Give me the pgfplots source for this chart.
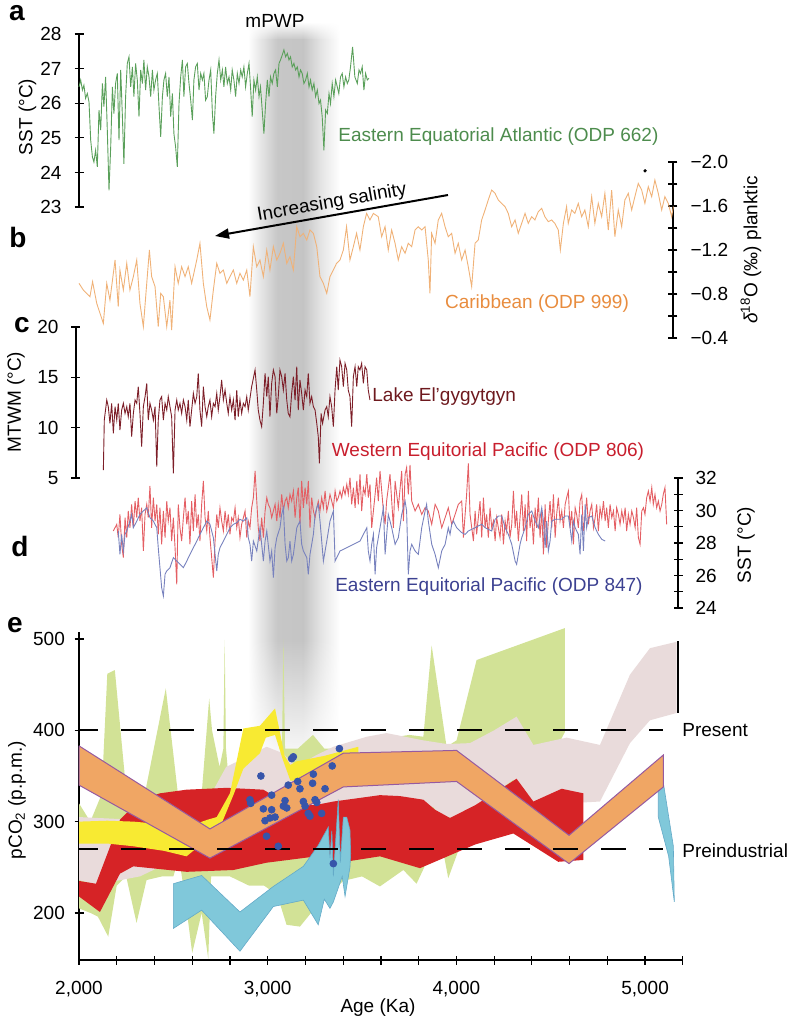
\documentclass[border=0pt]{standalone}
\usepackage{fontspec}
\setmainfont{Liberation Sans}
\usepackage{pgfplots}
\pgfplotsset{compat=1.18}
\usetikzlibrary{arrows.meta,fadings}

\definecolor{lgreen}{RGB}{90,160,90}
\definecolor{tgreen}{RGB}{77,140,77}
\definecolor{lorange}{RGB}{240,178,120}
\definecolor{torange}{RGB}{232,140,62}
\definecolor{ldark}{RGB}{125,30,40}
\definecolor{tdark}{RGB}{110,25,30}
\definecolor{lred}{RGB}{228,95,100}
\definecolor{tred}{RGB}{200,30,45}
\definecolor{lblue}{RGB}{120,130,190}
\definecolor{tblue}{RGB}{60,65,145}
\definecolor{egreen}{RGB}{210,226,150}
\definecolor{ered}{RGB}{214,35,38}
\definecolor{epink}{RGB}{233,219,219}
\definecolor{eyellow}{RGB}{248,234,50}
\definecolor{eorange}{RGB}{240,166,100}
\definecolor{epurple}{RGB}{150,90,160}
\definecolor{ecyan}{RGB}{128,200,218}
\definecolor{ecyanedge}{RGB}{100,170,200}
\definecolor{edot}{RGB}{55,85,170}

\tikzfading[name=fadedown, top color=transparent!0, bottom color=transparent!100]
\tikzfading[name=fadeup, top color=transparent!100, bottom color=transparent!0]
\pgfdeclarehorizontalshading{mpwp}{100bp}{color(0bp)=(white); color(25bp)=(white); color(32bp)=(black!10); color(41bp)=(black!22); color(55bp)=(black!23); color(65bp)=(black!10); color(75bp)=(white); color(100bp)=(white)}

\newcommand{\lab}{\fontsize{9.5}{11}\selectfont}

\pgfplotsset{
  panel/.style={scale only axis, clip=false,
    tick align=inside, major tick length=4.5pt, minor tick length=4.5pt,
    tick style={black, line width=0.6pt},
    tick label style={font=\lab},
    /pgf/number format/assume math mode=true},
  ypanel/.style={panel, axis x line=none, xtick=\empty},
  noarrow/.style={axis line style={black, line width=0.8pt, -},
    x axis line style={-}, y axis line style={-},
    every outer y axis line/.append style={-},
    every outer x axis line/.append style={-},
    every inner y axis line/.append style={-},
    every inner x axis line/.append style={-}},
}

\begin{document}
\begin{tikzpicture}
\path[use as bounding box] (0,0) rectangle (394pt,-512.5pt);

% mPWP shading band
\shade[shading=mpwp, path fading=fadeup] (124pt,-11pt) rectangle (170pt,-20pt);
\shade[shading=mpwp] (124pt,-19.9pt) rectangle (170pt,-320.1pt);
\shade[shading=mpwp, path fading=fadedown] (124pt,-320pt) rectangle (170pt,-385pt);

% ---------- panel a ----------
\begin{axis}[ypanel, at={(39.5pt,-103.5pt)}, anchor=south west,
  width=301.9pt, height=86.5pt, xmin=2000, xmax=5200, ymin=23, ymax=28,
  axis y line=left, ytick={23,24,25,26,27,28},
  yticklabel style={xshift=-3pt}, noarrow]
\addplot[lgreen, line width=0.45pt] coordinates {
(2000,26.47) (2009,26.67) (2018,26.38) (2026,26.52) (2035,26.14) (2044,26.28) (2053,26.04) (2062,24.93)
(2071,24.45) (2079,24.30) (2088,24.64) (2097,24.16) (2106,25.80) (2115,25.22) (2124,26.57) (2132,25.90)
(2141,26.76) (2150,25.22) (2159,23.48) (2168,24.74) (2177,26.47) (2185,25.70) (2194,26.57) (2203,26.86)
(2212,24.93) (2221,26.96) (2230,25.61) (2238,24.25) (2247,26.19) (2256,27.15) (2265,27.34) (2274,26.47)
(2283,27.05) (2291,26.19) (2300,27.15) (2309,26.67) (2318,25.61) (2327,26.96) (2336,26.57) (2344,27.25)
(2353,26.38) (2362,27.05) (2371,26.76) (2380,26.19) (2389,26.96) (2397,26.38) (2406,26.67) (2415,26.86)
(2424,25.90) (2433,25.03) (2442,26.19) (2450,26.67) (2459,26.86) (2468,26.19) (2477,26.76) (2486,25.61)
(2495,26.28) (2503,25.12) (2512,24.74) (2521,24.16) (2530,25.99) (2539,26.76) (2548,27.25) (2556,26.19)
(2565,27.05) (2574,27.15) (2583,26.57) (2592,26.09) (2601,25.51) (2609,26.67) (2618,27.05) (2627,27.15)
(2636,26.38) (2645,26.86) (2654,26.67) (2662,26.86) (2671,26.09) (2680,26.19) (2689,26.67) (2698,26.96)
(2707,25.70) (2715,25.12) (2724,26.19) (2733,26.86) (2742,27.25) (2751,26.67) (2760,26.96) (2768,26.47)
(2777,27.05) (2786,26.57) (2795,26.76) (2804,26.38) (2812,26.96) (2821,26.67) (2830,26.19) (2839,26.86)
(2848,26.57) (2857,26.96) (2865,26.76) (2874,27.05) (2883,26.47) (2892,26.86) (2901,27.15) (2910,26.38)
(2918,25.61) (2927,26.67) (2936,26.38) (2945,26.76) (2954,26.19) (2962,26.47) (2971,25.80) (2980,25.12)
(2989,25.99) (2998,26.67) (3007,26.19) (3015,26.76) (3024,26.57) (3033,26.86) (3042,26.96) (3051,26.47)
(3060,27.15) (3068,27.25) (3077,27.39) (3086,27.54) (3095,27.34) (3104,27.44) (3113,27.25) (3121,27.34)
(3130,27.05) (3139,27.15) (3148,26.96) (3157,27.05) (3166,26.76) (3174,26.96) (3183,26.86) (3192,26.57)
(3201,26.67) (3210,26.86) (3219,26.47) (3227,26.67) (3236,26.38) (3245,26.57) (3254,26.19) (3263,26.38)
(3272,25.99) (3280,26.09) (3289,25.61) (3298,24.64) (3307,25.80) (3316,25.70) (3325,26.28) (3333,25.99)
(3342,26.57) (3351,26.19) (3360,26.67) (3369,26.47) (3377,26.28) (3386,26.76) (3395,26.86) (3404,26.47)
(3413,26.76) (3422,26.57) (3430,26.67) (3439,27.05) (3450,27.63) (3462,26.76) (3475,26.57) (3484,26.96)
(3492,26.86) (3501,27.05) (3510,26.38) (3519,26.86) (3528,26.67) (3537,26.72)
};
\end{axis}

% ---------- panel b ----------
\begin{axis}[ypanel, at={(39.5pt,-169pt)}, anchor=south west,
  width=297pt, height=88pt, xmin=2000, xmax=5148, ymin=-2.0, ymax=-0.4,
  y dir=reverse, axis y line=right,
  ytick={-2.0,-1.6,-1.2,-0.8,-0.4}, yticklabels={−2.0,−1.6,−1.2,−0.8,−0.4},
  minor ytick={-1.8,-1.4,-1.0,-0.6},
  yticklabel style={xshift=3pt}, noarrow]
\addplot[lorange, line width=0.45pt] coordinates {
(2000,-0.897) (2023,-0.836) (2058,-0.776) (2072,-0.912) (2094,-0.715) (2129,-0.533) (2147,-0.897) (2164,-0.745)
(2191,-1.109) (2208,-0.685) (2217,-1.018) (2235,-0.836) (2253,-1.079) (2270,-0.836) (2288,-0.958) (2306,-1.109)
(2323,-0.715) (2341,-0.503) (2359,-0.897) (2373,-1.200) (2385,-0.958) (2403,-0.867) (2420,-0.503) (2433,-0.806)
(2447,-0.776) (2465,-0.503) (2482,-0.745) (2491,-0.473) (2509,-1.048) (2526,-0.897) (2544,-1.048) (2562,-0.958)
(2579,-1.048) (2597,-0.897) (2624,-1.109) (2641,-1.261) (2659,-0.897) (2677,-0.685) (2694,-0.564) (2712,-0.836)
(2730,-1.079) (2747,-0.988) (2765,-1.018) (2783,-0.897) (2800,-0.958) (2818,-1.018) (2836,-0.897) (2853,-0.988)
(2871,-0.927) (2889,-1.018) (2906,-0.776) (2924,-1.230) (2942,-1.048) (2959,-1.109) (2977,-0.958) (2995,-1.200)
(3012,-1.018) (3030,-1.230) (3048,-1.109) (3065,-1.170) (3083,-1.261) (3101,-1.079) (3118,-1.139) (3136,-1.018)
(3154,-1.412) (3171,-1.321) (3189,-1.352) (3207,-1.291) (3224,-1.382) (3242,-1.352) (3260,-1.230) (3277,-0.958)
(3295,-0.897) (3313,-0.806) (3330,-0.958) (3348,-1.018) (3365,-1.079) (3383,-1.109) (3401,-1.200) (3418,-1.412)
(3436,-1.109) (3454,-1.230) (3471,-1.352) (3489,-1.200) (3507,-1.412) (3524,-1.533) (3542,-1.473) (3560,-1.533)
(3586,-1.503) (3604,-1.321) (3622,-1.412) (3639,-1.200) (3657,-1.382) (3675,-1.261) (3692,-1.109) (3710,-1.230)
(3728,-1.170) (3745,-1.261) (3763,-1.230) (3781,-1.382) (3798,-1.412) (3816,-1.382) (3834,-1.412) (3851,-1.109)
(3860,-0.806) (3869,-1.352) (3887,-1.261) (3904,-1.473) (3922,-1.533) (3940,-1.412) (3957,-1.321) (3975,-1.352)
(3993,-1.170) (4010,-1.261) (4028,-1.109) (4046,-1.200) (4063,-1.048) (4081,-0.867) (4099,-1.261) (4116,-1.291)
(4134,-1.473) (4152,-1.564) (4169,-1.655) (4187,-1.745) (4205,-1.715) (4222,-1.655) (4240,-1.624) (4258,-1.594)
(4275,-1.533) (4293,-1.412) (4311,-1.473) (4328,-1.352) (4346,-1.442) (4364,-1.533) (4381,-1.442) (4399,-1.503)
(4416,-1.473) (4434,-1.548) (4452,-1.579) (4469,-1.503) (4487,-1.458) (4505,-1.473) (4522,-1.442) (4540,-1.382)
(4551,-1.200) (4567,-1.442) (4584,-1.594) (4593,-1.442) (4611,-1.564) (4628,-1.533) (4646,-1.624) (4664,-1.503)
(4681,-1.564) (4699,-1.412) (4717,-1.685) (4734,-1.442) (4752,-1.624) (4770,-1.503) (4787,-1.715) (4805,-1.382)
(4823,-1.745) (4840,-1.321) (4858,-1.564) (4876,-1.412) (4893,-1.655) (4911,-1.715) (4929,-1.564) (4946,-1.685)
(4964,-1.806) (4982,-1.745) (4999,-1.624) (5017,-1.776) (5035,-1.685) (5052,-1.836) (5070,-1.715) (5088,-1.564)
(5105,-1.685) (5123,-1.624) (5141,-1.503) (5150,-1.594)
};
\addplot[only marks, mark=*, mark size=0.6pt, black] coordinates {(5000,-1.92)};
\end{axis}

% ---------- panel c ----------
\begin{axis}[ypanel, at={(38pt,-239pt)}, anchor=south west,
  width=303.4pt, height=75.5pt, xmin=1984, xmax=5200, ymin=5, ymax=20,
  axis y line=left, ytick={5,10,15,20},
  yticklabel style={xshift=-3pt}, noarrow]
\addplot[ldark, line width=0.45pt] coordinates {
(2129,5.79) (2134,10.76) (2147,12.75) (2155,12.09) (2164,10.43) (2173,12.42) (2182,9.44) (2191,12.09)
(2200,10.76) (2208,12.42) (2217,9.77) (2226,11.75) (2235,12.42) (2244,11.42) (2253,12.09) (2261,11.09)
(2270,12.42) (2279,9.11) (2288,11.42) (2297,12.75) (2306,12.42) (2314,14.07) (2323,11.42) (2332,8.11)
(2341,12.09) (2350,13.08) (2359,14.40) (2367,10.76) (2376,12.42) (2385,11.75) (2394,10.76) (2403,12.09)
(2412,6.13) (2420,10.76) (2429,12.75) (2438,13.08) (2447,10.76) (2456,12.42) (2465,11.75) (2473,13.08)
(2482,12.09) (2491,11.09) (2500,5.46) (2509,11.75) (2518,12.75) (2526,11.75) (2535,12.42) (2544,11.42)
(2553,12.75) (2562,12.09) (2571,10.76) (2579,12.75) (2588,10.10) (2597,11.75) (2606,13.41) (2615,12.42)
(2624,13.08) (2632,15.40) (2641,11.75) (2650,10.10) (2659,14.07) (2668,12.09) (2677,11.09) (2685,12.09)
(2694,12.75) (2703,11.09) (2712,12.42) (2721,12.09) (2730,13.41) (2738,11.75) (2747,13.08) (2756,14.74)
(2765,12.75) (2774,13.74) (2783,12.42) (2791,11.42) (2800,13.08) (2809,11.75) (2818,12.75) (2827,10.76)
(2836,13.74) (2844,11.09) (2853,12.75) (2862,11.42) (2871,12.42) (2880,12.09) (2889,13.08) (2897,11.75)
(2915,14.07) (2933,15.73) (2942,13.74) (2950,11.75) (2959,10.76) (2968,10.10) (2977,12.42) (2986,15.40)
(2995,13.08) (3003,15.07) (3012,11.09) (3021,14.40) (3030,15.73) (3039,15.07) (3048,11.42) (3056,13.08)
(3065,15.73) (3074,15.07) (3083,13.74) (3092,15.40) (3101,12.75) (3109,11.42) (3118,11.09) (3127,13.41)
(3136,15.07) (3145,12.75) (3154,16.06) (3162,11.75) (3171,14.74) (3180,13.41) (3189,11.75) (3198,13.74)
(3207,13.08) (3215,15.40) (3224,12.42) (3233,13.08) (3242,12.09) (3251,11.75) (3260,10.43) (3268,9.11)
(3274,6.46) (3283,11.42) (3291,10.43) (3304,11.75) (3313,12.09) (3321,11.09) (3330,13.08) (3339,12.09)
(3348,10.10) (3357,13.74) (3366,16.06) (3374,13.74) (3383,16.72) (3392,16.06) (3401,14.07) (3410,16.39)
(3419,15.73) (3427,13.74) (3436,13.08) (3445,10.10) (3454,15.07) (3463,16.06) (3472,14.07) (3480,16.06)
(3489,15.73) (3498,16.39) (3507,14.40) (3516,16.06) (3525,15.73) (3533,13.74) (3542,12.75)
};
\end{axis}

% ---------- panel d ----------
\begin{axis}[ypanel, at={(39.5pt,-304pt)}, anchor=south west,
  width=299.5pt, height=65pt, xmin=2000, xmax=5174, ymin=24, ymax=32,
  axis y line=right, ytick={24,26,28,30,32}, minor ytick={25,27,29,31},
  yticklabel style={xshift=3pt}, noarrow]
\addplot[lred, line width=0.45pt] coordinates {
(2182,28.74) (2200,29.15) (2208,28.33) (2217,29.76) (2226,27.92) (2235,27.10) (2244,29.56) (2253,28.33)
(2261,29.97) (2270,28.94) (2279,30.38) (2288,28.94) (2297,30.58) (2306,29.56) (2314,30.79) (2323,29.35)
(2332,30.17) (2341,27.51) (2350,29.76) (2359,30.38) (2367,29.56) (2376,31.51) (2385,28.94) (2394,30.79)
(2403,29.35) (2412,30.38) (2420,28.53) (2429,30.17) (2438,27.92) (2447,29.97) (2456,28.33) (2465,30.58)
(2473,29.35) (2482,30.17) (2491,28.12) (2500,29.56) (2509,27.71) (2518,25.46) (2526,30.38) (2535,28.94)
(2544,28.12) (2553,29.56) (2562,30.79) (2571,29.15) (2579,29.97) (2588,27.92) (2597,30.58) (2606,28.74)
(2615,30.99) (2624,28.94) (2632,29.76) (2641,28.12) (2650,30.38) (2659,31.82) (2668,29.56) (2677,28.74)
(2685,29.97) (2694,28.33) (2703,27.10) (2712,25.87) (2721,28.12) (2730,29.76) (2738,28.94) (2747,30.17)
(2756,29.35) (2765,28.74) (2774,29.97) (2783,28.94) (2791,29.76) (2800,28.53) (2809,29.56) (2818,29.35)
(2827,30.17) (2836,28.94) (2844,29.56) (2853,28.33) (2862,29.15) (2871,29.56) (2880,29.97) (2889,28.33)
(2897,29.35) (2906,28.94) (2915,30.17) (2924,30.79) (2933,32.43) (2942,30.58) (2950,28.94) (2959,28.12)
(2968,29.56) (2977,28.33) (2986,29.97) (2995,30.79) (3003,30.38) (3012,30.17) (3021,29.56) (3030,29.97)
(3039,30.38) (3048,29.35) (3056,30.38) (3065,29.56) (3074,30.99) (3083,29.97) (3092,30.58) (3101,30.79)
(3109,30.17) (3118,30.99) (3127,30.58) (3136,31.20) (3145,29.56) (3154,30.79) (3162,31.41) (3171,29.15)
(3180,31.82) (3189,30.17) (3198,31.41) (3207,30.38) (3215,31.82) (3224,28.94) (3233,30.79) (3242,29.97)
(3251,29.56) (3260,30.17) (3268,30.58) (3277,29.97) (3286,30.79) (3295,30.17) (3304,31.20) (3313,29.97)
(3321,30.38) (3330,30.99) (3339,30.58) (3348,30.17) (3357,31.20) (3366,30.58) (3374,30.79) (3383,31.20)
(3392,30.79) (3401,31.41) (3410,30.99) (3419,31.61) (3427,30.99) (3436,32.02) (3445,30.38) (3454,31.41)
(3463,30.17) (3472,31.82) (3480,30.38) (3489,32.23) (3498,29.97) (3507,31.41) (3516,30.99) (3525,32.23)
(3533,30.79) (3542,31.61) (3551,28.94) (3560,29.97) (3569,30.99) (3577,32.02) (3586,30.58) (3595,32.43)
(3604,31.20) (3613,29.97) (3622,29.15) (3630,30.58) (3648,32.23) (3666,28.94) (3675,31.82) (3692,30.17)
(3710,32.43) (3719,29.35) (3728,32.23) (3736,32.64) (3745,30.99) (3754,32.8) (3763,30.58) (3781,29.97)
(3798,30.38) (3816,29.76) (3834,30.17) (3851,29.97) (3869,29.15) (3887,30.38) (3904,29.97) (3922,28.94)
(3940,29.56) (3957,30.17) (3975,29.15) (3993,29.76) (4010,30.38) (4028,30.58) (4037,28.33) (4046,29.76)
(4054,30.99) (4063,32.9) (4072,29.76) (4081,28.94) (4090,28.12) (4099,29.97) (4107,28.53) (4116,29.56)
(4125,30.58) (4134,28.33) (4143,30.79) (4152,28.94) (4160,29.76) (4169,28.33) (4178,30.17) (4187,28.94)
(4196,29.35) (4205,28.12) (4213,29.56) (4222,28.94) (4231,28.33) (4240,29.76) (4249,27.92) (4258,29.35)
(4266,28.74) (4275,29.97) (4284,28.33) (4293,29.15) (4302,31.20) (4311,28.94) (4319,29.97) (4328,28.12)
(4337,29.56) (4346,30.99) (4355,28.74) (4364,30.38) (4372,28.12) (4381,31.20) (4390,28.94) (4399,29.76)
(4408,27.92) (4417,30.17) (4425,28.94) (4434,30.79) (4443,28.33) (4452,29.97) (4461,27.30) (4470,30.38)
(4478,27.71) (4487,29.35) (4496,30.58) (4505,28.94) (4514,30.99) (4523,28.33) (4531,29.76) (4540,30.79)
(4549,29.35) (4558,29.97) (4567,28.94) (4576,30.38) (4584,30.79) (4593,31.20) (4602,28.94) (4611,29.97)
(4620,27.92) (4629,30.17) (4637,29.76) (4646,28.94) (4655,30.58) (4664,30.99) (4673,28.74) (4682,29.56)
(4690,30.79) (4699,29.15) (4708,29.97) (4717,30.38) (4726,28.94) (4735,29.56) (4743,30.38) (4752,28.74)
(4761,30.17) (4770,29.56) (4779,30.58) (4788,29.35) (4796,30.17) (4805,28.94) (4814,30.38) (4823,29.56)
(4832,29.97) (4841,28.74) (4849,30.17) (4858,29.76) (4867,29.15) (4876,29.97) (4885,29.35) (4894,30.17)
(4902,28.74) (4911,29.76) (4920,29.15) (4929,29.97) (4938,29.56) (4947,28.94) (4955,30.17) (4964,28.33)
(4973,27.92) (4982,29.97) (4991,30.17) (4999,29.76) (5008,30.79) (5017,31.20) (5026,30.58) (5035,31.41)
(5043,30.38) (5052,30.99) (5061,30.17) (5070,30.58) (5079,29.97) (5088,30.38) (5096,30.99) (5105,31.41)
(5114,29.15)
};
\addplot[lblue, line width=0.45pt] coordinates {
(2208,28.74) (2217,27.30) (2226,28.53) (2235,27.51) (2244,28.53) (2253,28.74) (2270,29.35) (2279,29.76)
(2288,28.94) (2306,29.35) (2323,29.76) (2341,29.97) (2359,30.17) (2376,29.56) (2394,29.35) (2412,28.94)
(2420,27.71) (2429,26.48) (2438,25.25) (2447,24.74) (2456,26.07) (2465,26.28) (2482,26.48) (2500,27.10)
(2518,26.89) (2535,26.69) (2553,26.48) (2571,26.89) (2588,27.30) (2606,27.71) (2624,28.12) (2641,28.53)
(2659,28.94) (2677,29.35) (2694,29.15) (2712,28.33) (2730,26.28) (2738,27.30) (2747,27.71) (2765,28.12)
(2783,28.53) (2800,28.94) (2818,29.15) (2836,29.25) (2853,29.46) (2871,29.35) (2889,29.56) (2897,28.33)
(2906,27.92) (2915,26.89) (2924,28.12) (2942,27.51) (2959,28.94) (2977,26.89) (2986,28.12) (2995,28.74)
(3012,26.89) (3021,27.51) (3030,25.87) (3039,27.71) (3048,28.33) (3065,28.94) (3074,29.76) (3083,30.17)
(3092,27.92) (3101,26.89) (3109,27.10) (3118,28.12) (3127,26.89) (3136,27.30) (3154,28.94) (3171,29.35)
(3180,27.92) (3189,27.51) (3207,27.10) (3215,26.07) (3224,27.30) (3242,28.53) (3251,29.76) (3260,30.17)
(3268,30.38) (3277,29.35) (3286,28.12) (3295,26.89) (3313,28.12) (3330,29.35) (3348,29.97) (3357,26.89)
(3366,27.10) (3383,27.51) (3419,27.71) (3454,27.92) (3489,28.12) (3525,28.94) (3533,27.51) (3542,26.89)
(3551,27.92) (3560,28.53) (3569,26.07) (3577,27.71) (3595,28.94) (3613,30.17) (3622,27.30) (3639,29.76)
(3657,28.94) (3675,27.92) (3692,28.33) (3710,29.76) (3728,30.58) (3736,29.97) (3745,26.07) (3754,27.51)
(3763,27.92) (3781,27.51) (3798,27.30) (3816,28.94) (3834,29.97) (3842,30.38) (3851,29.35) (3869,27.92)
(3887,27.30) (3904,26.48) (3922,27.51) (3940,27.92) (3957,28.94) (3966,28.53) (3975,29.15) (3984,29.35)
(4001,28.94) (4028,28.64) (4046,28.53) (4063,28.74) (4081,28.84) (4099,28.94) (4116,29.05) (4134,29.15)
(4152,28.94) (4169,28.84) (4187,28.74) (4205,29.46) (4222,29.66) (4240,29.66) (4258,28.94) (4275,28.53)
(4293,27.92) (4311,26.89) (4319,26.69) (4328,27.30) (4337,27.92) (4346,28.33) (4364,28.94) (4381,29.76)
(4399,29.97) (4417,29.35) (4434,28.94) (4452,30.17) (4461,29.35) (4470,27.71) (4478,29.35) (4487,27.51)
(4496,28.12) (4505,29.35) (4523,29.46) (4540,29.46) (4558,29.46) (4576,29.66) (4593,29.66) (4602,28.94)
(4611,28.12) (4620,29.35) (4629,28.94) (4646,28.53) (4655,27.30) (4664,29.76) (4673,27.51) (4682,30.38)
(4690,28.94) (4699,29.56) (4717,29.66) (4735,28.94) (4752,28.53) (4770,28.23) (4788,28.12)
};
\end{axis}

% ---------- panel e ----------
\begin{axis}[panel, at={(39.5pt,-480pt)}, anchor=south west,
  width=301.9pt, height=164pt, xmin=2000, xmax=5200, ymin=148.4, ymax=507.7,
  axis x line=bottom, axis y line=left,
  xtick={2000,3000,4000,5000}, xticklabels={{2,000},{3,000},{4,000},{5,000}},
  minor xtick={2200,2400,2600,2800,3200,3400,3600,3800,4200,4400,4600,4800,5200},
  ytick={200,300,400,500},
  yticklabel style={xshift=-1.3pt}, xticklabel style={yshift=-5pt}, noarrow]
% green
\addplot[fill=egreen, draw=none] coordinates {
(2000,320) (2060,300) (2120,330) (2150,462) (2190,466) (2270,290) (2330,300) (2358,340) (2460,446)
(2530,320) (2600,290) (2650,330) (2690,435) (2705,400) (2745,360) (2765,380) (2772,499) (2779,380)
(2800,330) (2870,330) (2980,320) (3075,360) (3083,500) (3092,380) (3160,380) (3240,395) (3300,380)
(3400,380) (3500,380) (3600,390) (3750,395) (3825,393) (3869,493) (3948,382) (4001,389) (4107,477)
(4575,512) (4575,398) (4400,330) (4200,300) (4019,273) (3957,238) (3900,300) (3869,310) (3830,250)
(3789,232) (3719,247) (3595,229) (3500,240) (3400,235) (3300,215) (3230,200) (3171,185) (3100,187)
(3050,220) (2980,230) (2900,230) (2800,240) (2700,240) (2685,150) (2650,200) (2600,156) (2560,220)
(2530,260) (2500,240) (2440,240) (2358,236) (2305,189) (2250,240) (2200,230) (2155,174) (2100,196)
(2060,200) (2000,205) (2000,320)
};
% pink
\addplot[fill=epink, draw=none] coordinates {
(2000,305) (2300,302) (2550,300) (2700,330) (2780,360) (2871,369) (2994,382) (3080,375) (3153,360)
(3250,372) (3348,382) (3525,393) (3630,397) (3825,389) (3950,385) (4072,386) (4200,400) (4319,415)
(4408,384) (4584,392) (4761,384) (4920,461) (5026,490) (5167,497) (5167,419) (5026,411) (4920,386)
(4761,322) (4584,320) (4408,322) (4302,346) (4125,320) (4019,302) (3913,307) (3878,316) (3700,318)
(3400,300) (3171,300) (2994,290) (2818,280) (2641,262) (2465,254) (2323,240) (2094,231) (2000,236)
(2000,305)
};
% red
\addplot[fill=ered, draw=none] coordinates {
(2000,235) (2090,232) (2160,270) (2217,302) (2323,324) (2429,331) (2570,335) (2783,337) (2977,335)
(3100,320) (3250,318) (3348,322) (3525,327) (3595,329) (3700,328) (3825,324) (3887,313) (3966,304)
(4100,318) (4319,347) (4408,322) (4558,336) (4673,331) (4673,258) (4540,256) (4302,287) (4100,275)
(3807,249) (3595,262) (3348,254) (3260,262) (2994,255) (2818,247) (2570,245) (2288,251) (2217,243)
(2111,201) (2000,218) (2000,235)
};
% yellow
\addplot[fill=eyellow, draw=none] coordinates {
(2000,300) (2150,301) (2288,300) (2450,297) (2570,294) (2680,302) (2730,305) (2800,331) (2871,402)
(2959,405) (3039,424) (3090,372) (3120,362) (3153,366) (3300,372) (3480,382) (3480,370) (3300,357)
(3171,345) (3120,345) (3080,368) (3039,395) (2990,392) (2959,375) (2871,358) (2820,330) (2760,300)
(2641,274) (2570,262) (2450,268) (2288,273) (2150,276) (2000,276) (2000,300)
};
% cyan
\addplot[fill=ecyan, draw=ecyanedge, line width=0.3pt] coordinates {
(2500,232) (2650,241) (2853,201) (3030,229) (3189,251) (3268,274) (3321,294) (3330,260) (3340,290)
(3348,240) (3374,324) (3385,255) (3401,305) (3419,305) (3436,291) (3440,265) (3436,250) (3410,218)
(3395,240) (3370,225) (3348,212) (3330,205) (3300,215) (3268,187) (3189,214) (3030,207) (2853,158)
(2650,203) (2500,183) (2500,232)
};
\addplot[fill=ecyan, draw=ecyanedge, line width=0.3pt] coordinates {
(5070,335) (5095,345) (5150,273) (5155,212) (5125,262) (5070,305) (5070,335)
};
% orange band
\addplot[fill=eorange, draw=epurple, line width=0.5pt] coordinates {
(2000,383) (2694,292) (3401,375) (4001,378) (4597,285) (5097,373)
(5097,338) (4597,254) (4001,344) (3401,338) (2694,260) (2000,340) (2000,383)
};
% dashed reference lines
\addplot[black, line width=1pt, dash pattern=on 12.5pt off 11.5pt, dash phase=2.8pt] coordinates {(2000,400) (5097,400)};
\addplot[black, line width=1pt, dash pattern=on 12.5pt off 11.5pt, dash phase=2.8pt] coordinates {(2000,270) (5097,270)};
\addplot[black, line width=0.7pt] coordinates {(5175,419) (5175,498)};
% blue dots
\addplot[only marks, mark=*, mark size=1.7pt, color=edot] coordinates {
(2964,350) (2906,324) (2910,320) (2977,314) (3021,329) (3021,313) (2986,301) (3012,304) (3039,305)
(2994,284) (3056,273) (3092,323) (3101,315) (3083,317) (3109,340) (3127,369) (3136,371) (3159,344)
(3171,336) (3189,322) (3198,317) (3215,309) (3224,306) (3238,342) (3242,352) (3251,324) (3260,321)
(3286,309) (3304,336) (3342,361) (3380,380) (3348,254)
};
\end{axis}

% ---------- texts ----------
\begin{scope}[every node/.style={inner sep=0pt, font=\lab}]
\node[font=\fontsize{14}{14}\selectfont\bfseries, anchor=base] at (8.5pt,-10pt) {a};
\node[font=\fontsize{14}{14}\selectfont\bfseries, anchor=base] at (9pt,-123.5pt) {b};
\node[font=\fontsize{14}{14}\selectfont\bfseries, anchor=base] at (11pt,-166pt) {c};
\node[font=\fontsize{14}{14}\selectfont\bfseries, anchor=base] at (10pt,-278pt) {d};
\node[font=\fontsize{14}{14}\selectfont\bfseries, anchor=base] at (7.5pt,-316pt) {e};
\node[anchor=base] at (137.5pt,-13.5pt) {mPWP};
\node[rotate=90] at (13.75pt,-58.5pt) {SST (°C)};
\node[rotate=90] at (375.5pt,-125pt) {\textit{δ}\textsuperscript{18}O (‰) planktic};
\node[rotate=90] at (8pt,-201pt) {MTWM (°C)};
\node[rotate=90] at (373pt,-272.5pt) {SST (°C)};
\node[rotate=90] at (8.5pt,-400pt) {pCO\textsubscript{2} (p.p.m.)};
\node at (189pt,-504pt) {Age (Ka)};
\node[anchor=west] at (341pt,-365pt) {Present};
\node[anchor=west] at (341pt,-425.5pt) {Preindustrial};
\node[anchor=west, text=tgreen] at (169pt,-68.5pt) {Eastern Equatorial Atlantic (ODP 662)};
\node[text=torange] at (268.5pt,-152pt) {Caribbean (ODP 999)};
\node[anchor=west, text=tdark] at (186pt,-198.5pt) {Lake El’gygytgyn};
\node[text=tred] at (244pt,-226pt) {Western Equitorial Pacific (ODP 806)};
\node[anchor=east, text=tblue] at (321.5pt,-293.5pt) {Eastern Equitorial Pacific (ODP 847)};
\node[rotate=10] at (166pt,-101.5pt) {Increasing salinity};
\end{scope}
\draw[line width=1pt, -{Triangle[length=7pt,width=5pt]}] (224pt,-97.5pt) -- (107.5pt,-118pt);

\end{tikzpicture}
\end{document}
